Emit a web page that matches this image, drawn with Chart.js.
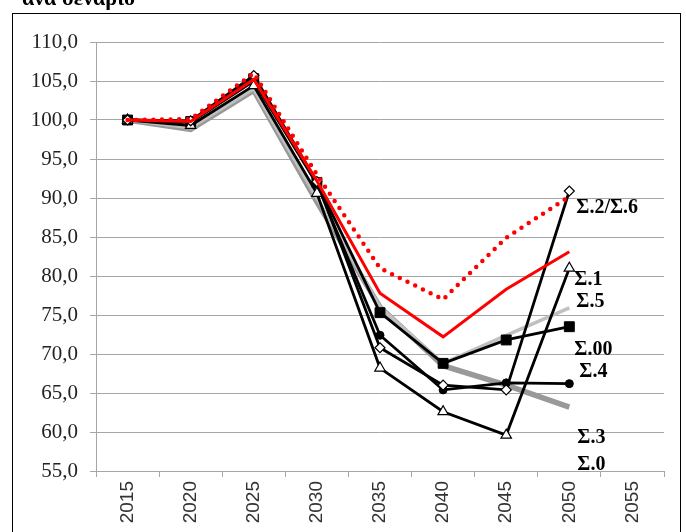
<!DOCTYPE html>
<html>
<head>
<meta charset="utf-8">
<script src="https://cdn.jsdelivr.net/npm/chart.js@4/dist/chart.umd.min.js"></script>
<style>
  html, body { margin: 0; padding: 0; background: #ffffff; }
  canvas { display: block; }
</style>
</head>
<body>
<canvas id="scenarioChart" width="686" height="532"></canvas>
<script>
// Index (2015 = 100) per scenario, 2015-2050
const years = ['2015', '2020', '2025', '2030', '2035', '2040', '2045', '2050', '2055'];

const s3Values     = [100, 98.8, 103.8, 89.5, 76.0, 68.5, 66.0, 63.2];
const s5Values     = [100, 99.0, 104.0, 90.0, 76.0, 68.8, 72.4, 75.9];
const s00Values    = [100, 99.8, 105.3, 92.0, 75.3, 68.8, 71.8, 73.5];
const s4Values     = [100, 99.7, 105.0, 91.8, 72.4, 65.4, 66.3, 66.2];
const s0Values     = [100, 99.9, 105.7, 92.1, 70.8, 66.0, 65.4, 90.9];
const s1Values     = [100, 99.3, 104.4, 90.6, 68.2, 62.6, 59.6, 81.0];
const redValues    = [100, 99.8, 105.2, 92.2, 77.8, 72.2, 78.3, 83.1];
const s26Values    = [100, 100.1, 106.0, 93.0, 81.0, 77.0, 84.9, 90.2];

// End-of-line scenario names and the value level they sit at
const endLabels      = ['Σ.2/Σ.6', 'Σ.1', 'Σ.5', 'Σ.00', 'Σ.4', 'Σ.3', 'Σ.0'];
const endLabelLevels = [88.8, 79.5, 76.7, 70.5, 67.7, 59.2, 55.8];
const endLabelShift  = [7, 5, 7, 5, 10, 8, 8];

const titleText = 'ανά σενάριο';

const gridGray = '#a6a6a6';

const frameAndLabels = {
    id: 'frameAndLabels',
    beforeDraw(chart) {
        const ctx = chart.ctx;
        ctx.save();
        ctx.fillStyle = '#ffffff';
        ctx.fillRect(0, 0, chart.width, chart.height);
        ctx.strokeStyle = '#000000';
        ctx.lineWidth = 1;
        ctx.strokeRect(12.5, 13.5, 668, 600);
        ctx.fillStyle = '#000000';
        ctx.font = 'bold 22px "Liberation Serif"';
        ctx.textBaseline = 'alphabetic';
        ctx.fillText(titleText, 22, 5);
        ctx.restore();
    },
    afterDraw(chart) {
        const ctx = chart.ctx;
        const x = chart.scales.x.getPixelForValue(7);
        ctx.save();
        ctx.fillStyle = '#000000';
        ctx.font = 'bold 20px "Liberation Serif"';
        ctx.textBaseline = 'middle';
        ctx.textAlign = 'left';
        endLabels.forEach((name, i) => {
            ctx.fillText(name, x + endLabelShift[i], chart.scales.y.getPixelForValue(endLabelLevels[i]));
        });
        ctx.restore();
    }
};

function lineSet(label, data, color, width, extra) {
    return Object.assign({
        label: label,
        data: data,
        borderColor: color,
        backgroundColor: color,
        borderWidth: width,
        pointRadius: 0,
        tension: 0,
        fill: false
    }, extra || {});
}

// Chart.js paints the first dataset last, so the red series sit on top
// and the grey bands underneath the black scenarios.
new Chart(document.getElementById('scenarioChart').getContext('2d'), {
    type: 'line',
    data: {
        labels: years,
        datasets: [
            lineSet('Σ.2/Σ.6', s26Values, '#ff0000', 4.5, {
                borderDash: [0, 8.6], borderCapStyle: 'round'
            }),
            lineSet('Σ.red', redValues, '#ff0000', 3),
            lineSet('Σ.0', s0Values, '#000000', 2.8, {
                pointRadius: 5, pointStyle: 'rectRot',
                pointBackgroundColor: '#ffffff', pointBorderColor: '#000000', pointBorderWidth: 1.2
            }),
            lineSet('Σ.1', s1Values, '#000000', 2.8, {
                pointRadius: 6, pointStyle: 'triangle',
                pointBackgroundColor: '#ffffff', pointBorderColor: '#000000', pointBorderWidth: 1.2
            }),
            lineSet('Σ.4', s4Values, '#000000', 2.8, {
                pointRadius: 4, pointStyle: 'circle',
                pointBackgroundColor: '#000000', pointBorderColor: '#000000', pointBorderWidth: 1
            }),
            lineSet('Σ.00', s00Values, '#000000', 2.8, {
                pointRadius: 7, pointStyle: 'rect',
                pointBackgroundColor: '#000000', pointBorderColor: '#000000', pointBorderWidth: 1
            }),
            lineSet('Σ.5', s5Values, '#c0c0c0', 3.5),
            lineSet('Σ.3', s3Values, '#999999', 5.5)
        ]
    },
    options: {
        responsive: false,
        animation: false,
        devicePixelRatio: 1,
        layout: { padding: { top: 42, right: 22, left: 0, bottom: 0 } },
        plugins: {
            legend: { display: false },
            tooltip: { enabled: false }
        },
        scales: {
            x: {
                type: 'category',
                offset: true,
                grid: {
                    offset: true,
                    drawOnChartArea: false,
                    drawTicks: true,
                    tickLength: 6,
                    color: gridGray
                },
                border: { display: true, color: gridGray, width: 1 },
                ticks: {
                    minRotation: 90,
                    maxRotation: 90,
                    padding: 4,
                    color: '#333333',
                    font: { family: '"Liberation Sans"', size: 19 }
                },
                afterFit(scale) { scale.height = 61; }
            },
            y: {
                min: 55,
                max: 110,
                ticks: {
                    stepSize: 5,
                    padding: 12,
                    color: '#222222',
                    font: { family: '"Liberation Serif"', size: 21 },
                    callback: value => value.toFixed(1).replace('.', ',')
                },
                grid: { color: gridGray, tickLength: 6, lineWidth: 1 },
                border: { display: true, color: gridGray, width: 1 },
                afterFit(scale) { scale.width = 96; }
            }
        }
    },
    plugins: [frameAndLabels]
});
</script>
</body>
</html>
